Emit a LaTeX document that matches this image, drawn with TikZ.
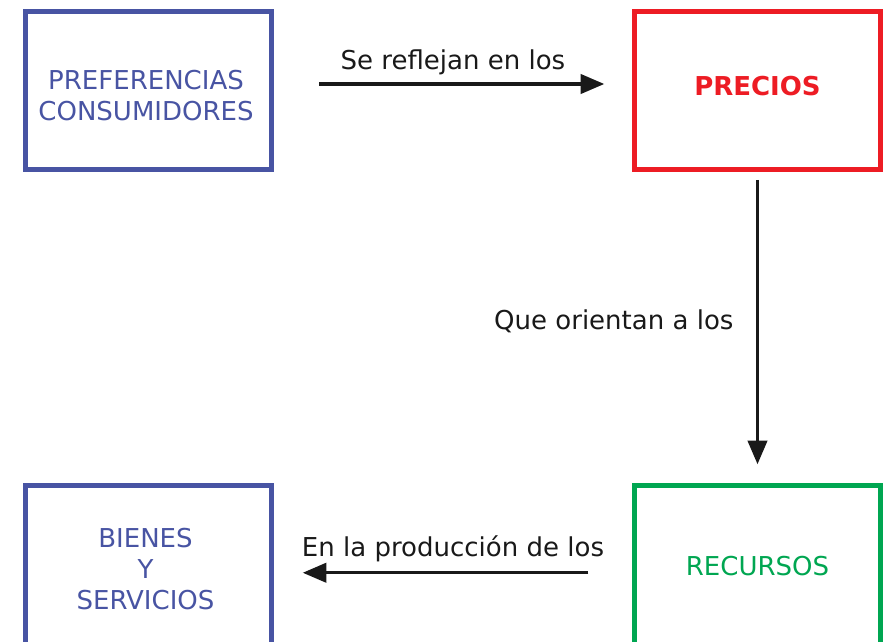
\documentclass[tikz,border=0pt]{standalone}
\usepackage{fontspec}
\setmainfont{DejaVu Sans}
\usetikzlibrary{arrows.meta}
\definecolor{azul}{RGB}{72,84,163}
\definecolor{rojo}{RGB}{237,28,36}
\definecolor{verde}{RGB}{0,166,81}

\begin{document}
\begin{tikzpicture}[x=0.02cm, y=-0.02cm]
            \useasboundingbox (0,0) rectangle (886,642);
            \clip (0,0) rectangle (886,642);
            \begin{scope}
              \tikzset{box/.style = {shape=rectangle,draw,line width=0.1cm,minimum width=4.93cm,minimum height=3.17cm}}
              \tikzset{txt/.style = {align=center,font=\fontsize{14.8pt}{17.6pt}\selectfont}}
              \tikzset{edge/.style = {-{Triangle[length=13.5pt,width=11pt]},line width=1.9pt,black!90}}
              \tikzset{lbl/.style = {font=\fontsize{14.8pt}{17.6pt}\selectfont,text=black!90}}

              \node[box, draw=azul, label={[txt, text=azul, yshift=-0.11cm, xshift=-0.05cm]center:PREFERENCIAS\\CONSUMIDORES}] (pref) at (148.5, 90.25) {};
              \node[box, draw=rojo, label={[txt, text=rojo, font=\fontsize{14.8pt}{17.6pt}\selectfont\bfseries, yshift=0.08cm]center:PRECIOS}] (prec) at (757.5, 90.25) {};
              \node[box, draw=verde, label={[txt, text=verde, yshift=-0.02cm]center:RECURSOS}] (rec) at (757.5, 565) {};
              \node[box, draw=azul, label={[txt, text=azul, yshift=-0.08cm, xshift=-0.06cm]center:BIENES\\Y\\SERVICIOS}] (bien) at (148.5, 565) {};

              \draw[edge, shorten <=0.9cm, shorten >=0.55cm] ([yshift=0.125cm]pref.east) to node[lbl, midway, above=1pt] {Se reflejan en los} ([yshift=0.125cm]prec.west);
              \draw[edge, shorten <=0.16cm, shorten >=0.38cm] (prec) to node[lbl, pos=0.479, left=0.33cm] {Que orientan a los} (rec);
              \draw[edge, shorten <=0.87cm, shorten >=0.57cm] ([yshift=-0.155cm]rec.west) to node[lbl, midway, above=2pt] {En la producción de los} ([yshift=-0.155cm]bien.east);
            \end{scope}
\end{tikzpicture}
\end{document}
